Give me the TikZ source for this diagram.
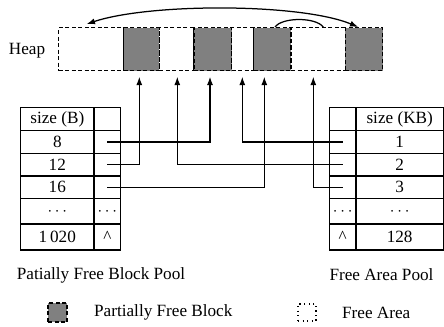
\documentclass[tikz,border=0pt]{standalone}
\usepackage{fontspec}
\setmainfont{Liberation Serif}
\usetikzlibrary{arrows.meta}

\begin{document}
\begin{tikzpicture}[x=0.6pt, y=-0.6pt, >={Latex[length=5pt,width=3.6pt]},
  line width=0.75pt, font=\fontsize{10.3}{12}\selectfont,
  cell/.style={draw, rectangle, inner sep=0pt},
  seg/.style={draw, rectangle, dash pattern=on 2.4pt off 1.5pt, inner sep=0pt, minimum height=25.8pt},
  used/.style={seg, fill=gray}]
\useasboundingbox (0,0) rectangle (444,327);

% heap
\node at (27,51) (heap) {Heap};
\node[seg, minimum width=39pt] (f1) at (91.2,49.2) {};
\node[used, minimum width=21.4pt] (g1) at (141.5,49.2) {};
\node[seg, minimum width=20.8pt] (f2) at (176.7,49.2) {};
\node[used, minimum width=22.6pt] (g2) at (212.8,49.2) {};
\node[seg, minimum width=13.2pt] (f3) at (242.7,49.2) {};
\node[used, minimum width=22.4pt] (g3) at (272.3,49.2) {};
\node[seg, minimum width=32.6pt] (f4) at (318.2,49.2) {};
\node[used, minimum width=22.4pt] (g4) at (364,49.2) {};

% links between blocks
\coordinate (top1) at (86.7,24);
\coordinate (top2) at (358.3,27);
\draw[<->] (top1) .. controls (150,3) and (300,3) .. (top2);
\draw (g3.north -| 275,0) .. controls (282,17) and (316,17) .. (f4.north -| 323.3,0);

% partially free block pool
\node[cell, minimum width=44pt, minimum height=14pt] (sB) at (57.3,119) {size (B)};
\node[cell, minimum width=16pt, minimum height=14pt] (pB) at (107.3,119) {};
\node[cell, minimum width=44pt, minimum height=13.6pt] (s8) at (57.3,142) {8};
\node[cell, minimum width=16pt, minimum height=13.6pt] (p8) at (107.3,142) {};
\node[cell, minimum width=44pt, minimum height=13.6pt] (s12) at (57.3,164.7) {12};
\node[cell, minimum width=16pt, minimum height=13.6pt] (p12) at (107.3,164.7) {};
\node[cell, minimum width=44pt, minimum height=13.6pt] (s16) at (57.3,187.3) {16};
\node[cell, minimum width=16pt, minimum height=13.6pt] (p16) at (107.3,187.3) {};
\node[cell, minimum width=44pt, minimum height=15.2pt] (sdots) at (57.3,211.3) {$\cdots$};
\node[cell, minimum width=16pt, minimum height=15.2pt] (pdots) at (107.3,211.3) {$\cdots$};
\node[cell, minimum width=44pt, minimum height=15.6pt] (slast) at (57.3,237) {1\,020};
\node[cell, minimum width=16pt, minimum height=15.6pt] (plast) at (107.3,237) {\^{}};

% free area pool
\node[cell, minimum width=16pt, minimum height=14pt] (qKB) at (342.7,119) {};
\node[cell, minimum width=52.5pt, minimum height=14pt] (tKB) at (399.7,119) {size (KB)};
\node[cell, minimum width=16pt, minimum height=13.6pt] (q1) at (342.7,142) {};
\node[cell, minimum width=52.5pt, minimum height=13.6pt] (t1) at (399.7,142) {1};
\node[cell, minimum width=16pt, minimum height=13.6pt] (q2) at (342.7,164.7) {};
\node[cell, minimum width=52.5pt, minimum height=13.6pt] (t2) at (399.7,164.7) {2};
\node[cell, minimum width=16pt, minimum height=13.6pt] (q3) at (342.7,187.3) {};
\node[cell, minimum width=52.5pt, minimum height=13.6pt] (t3) at (399.7,187.3) {3};
\node[cell, minimum width=16pt, minimum height=15.2pt] (qdots) at (342.7,211.3) {$\cdots$};
\node[cell, minimum width=52.5pt, minimum height=15.2pt] (tdots) at (399.7,211.3) {$\cdots$};
\node[cell, minimum width=16pt, minimum height=15.6pt] (qlast) at (342.7,237) {\^{}};
\node[cell, minimum width=52.5pt, minimum height=15.6pt] (tlast) at (399.7,237) {128};

% pointers into the heap
\coordinate (a1) at (139.3,76.7);
\coordinate (a2) at (177.3,76.7);
\coordinate (a3) at (210,76.7);
\coordinate (a4) at (242.3,76.7);
\coordinate (a5) at (264.3,76.7);
\coordinate (a6) at (313.3,76.7);
\draw[->] (p8.center) -| (a3);
\draw[->] (p12.center) -| (a1);
\draw[->] (p16.center) -| (a5);
\draw[->] (q1.center) -| (a4);
\draw[->] (q2.center) -| (a2);
\draw[->] (q3.center) -| (a6);

\node (pfbp) at (101,275) {Patially Free Block Pool};
\node (fap) at (381.5,275) {Free Area Pool};

% legend
\node[used, minimum width=11.4pt, minimum height=11.4pt] (lg1) at (57.5,312.5) {};
\node[right] (lt1) at (88,312.5) {Partially Free Block};
\node[draw, dotted, inner sep=0pt, minimum width=10.8pt, minimum height=10.2pt] (lg2) at (307,312.5) {};
\node[right] (lt2) at (336,312.5) {Free Area};
\end{tikzpicture}
\end{document}
